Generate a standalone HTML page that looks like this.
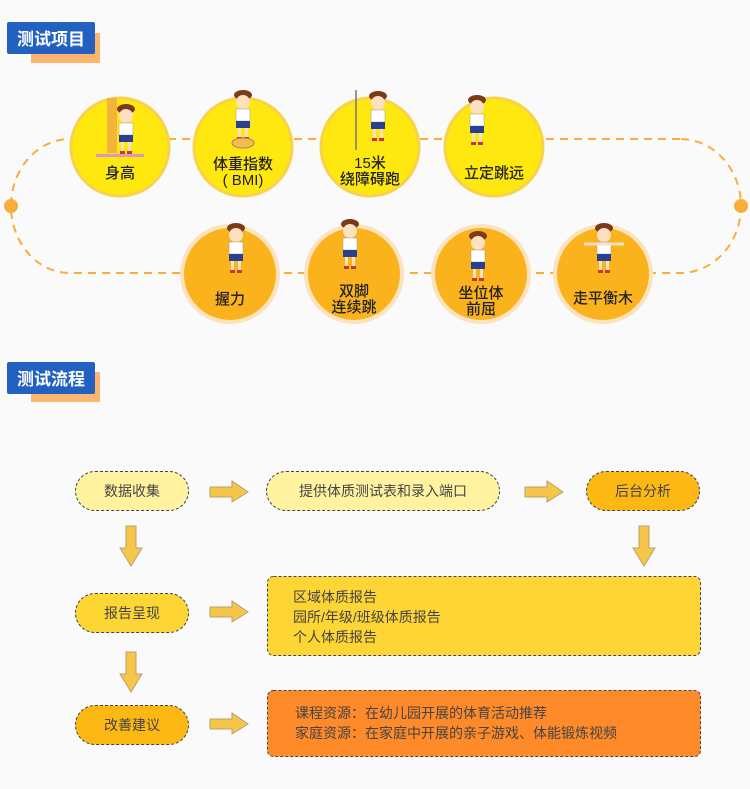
<!DOCTYPE html>
<html><head><meta charset="utf-8"><style>
html,body{margin:0;padding:0;background:#fafafa;}
svg{display:block}
text{font-family:"Liberation Sans","Noto Sans CJK SC",sans-serif;}
</style></head><body>
<svg width="750" height="789" viewBox="0 0 750 789" xmlns="http://www.w3.org/2000/svg">
<defs>
<g id="kid">
  <ellipse cx="0" cy="-22" rx="9" ry="5" fill="#7a3b1a"/>
  <circle cx="0" cy="-15" r="7" fill="#fde0c0"/>
  <rect x="-7" y="-8" width="14" height="12" fill="#fff" stroke="#999" stroke-width="0.5"/>
  <rect x="-7" y="4" width="14" height="7" fill="#2a3f8f"/>
  <rect x="-5" y="11" width="3" height="9" fill="#fde0c0"/>
  <rect x="2" y="11" width="3" height="9" fill="#fde0c0"/>
  <rect x="-6" y="20" width="5" height="3" fill="#c33"/>
  <rect x="1" y="20" width="5" height="3" fill="#c33"/>
</g>
<g id="ra">
  <path d="M0,-5 L22,-5 L22,-11 L38,0 L22,10 L22,5 L0,5 Z" fill="#f6c64a" stroke="#b9a070" stroke-width="1"/>
</g>
<g id="da">
  <path d="M-5,0 L5,0 L5,22 L11,22 L0,40 L-11,22 L-5,22 Z" fill="#f6c64a" stroke="#b9a070" stroke-width="1"/>
</g>
</defs>
<rect width="750" height="789" fill="#fafafa"/>

<rect x="31" y="33" width="69" height="30" fill="#fdb570"/>
<rect x="7" y="22" width="88" height="32" rx="2" fill="#2261c1"/>
<text x="51" y="45" font-size="17" font-weight="bold" fill="#fff" text-anchor="middle">测试项目</text>

<path d="M680,139 L70,139 A59,67 0 0 0 11,206 A59,67 0 0 0 70,273 L680,273 A61,67 0 0 0 741,206 A61,67 0 0 0 680,139 Z" fill="none" stroke="#f9ad3c" stroke-width="2" stroke-dasharray="8,6"/>
<circle cx="11" cy="206" r="7" fill="#f9ad3c"/>
<circle cx="741" cy="206" r="7" fill="#f9ad3c"/>

<g fill="#ffe80f" stroke="#f8d34a" stroke-width="3">
<circle cx="120" cy="147" r="49"/>
<circle cx="243" cy="147" r="49"/>
<circle cx="370" cy="147" r="49"/>
<circle cx="494" cy="147" r="49"/>
</g>
<g fill="#fbb31d" stroke="#fbe3bf" stroke-width="4">
<circle cx="230" cy="274" r="48"/>
<circle cx="354" cy="274" r="48"/>
<circle cx="481" cy="274" r="48"/>
<circle cx="603" cy="274" r="48"/>
</g>

<rect x="107" y="98" width="10" height="55" fill="#f2b53a"/>
<rect x="96" y="154" width="48" height="3" fill="#d9b"/>
<use href="#kid" x="126" y="131"/>
<use href="#kid" x="243" y="117"/>
<ellipse cx="243" cy="143" rx="11" ry="5" fill="#f2c04a" stroke="#a77" stroke-width="1"/>
<line x1="356" y1="90" x2="356" y2="150" stroke="#777" stroke-width="1.5"/>
<use href="#kid" x="378" y="118"/>
<use href="#kid" x="477" y="122"/>
<use href="#kid" x="236" y="250"/>
<use href="#kid" x="350" y="246"/>
<use href="#kid" x="478" y="258"/>
<use href="#kid" x="604" y="250"/>
<line x1="584" y1="244" x2="624" y2="244" stroke="#fde0c0" stroke-width="3"/>

<g font-size="15" font-weight="500" fill="#222" text-anchor="middle">
<text x="120" y="178">身高</text>
<text x="243" y="169">体重指数</text>
<text x="243" y="185">( BMI)</text>
<text x="370" y="168">15米</text>
<text x="370" y="184">绕障碍跑</text>
<text x="494" y="178">立定跳远</text>
<text x="230" y="304">握力</text>
<text x="354" y="296">双脚</text>
<text x="354" y="312">连续跳</text>
<text x="481" y="298">坐位体</text>
<text x="481" y="314">前屈</text>
<text x="603" y="303">走平衡木</text>
</g>

<rect x="31" y="372" width="69" height="30" fill="#fdb570"/>
<rect x="7" y="362" width="88" height="32" rx="2" fill="#2261c1"/>
<text x="51" y="385" font-size="17" font-weight="bold" fill="#fff" text-anchor="middle">测试流程</text>

<g stroke="#444" stroke-width="1" stroke-dasharray="3,2">
<rect x="75.5" y="471.5" width="113" height="39" rx="19.5" fill="#fff3a0"/>
<rect x="266.5" y="471.5" width="233" height="39" rx="19.5" fill="#fff3a0"/>
<rect x="586.5" y="471.5" width="113" height="39" rx="19.5" fill="#fdb813"/>
<rect x="75.5" y="593.5" width="113" height="39" rx="19.5" fill="#fdd535"/>
<rect x="267.5" y="576.5" width="433" height="79" rx="6" fill="#fdd535"/>
<rect x="75.5" y="705.5" width="113" height="39" rx="19.5" fill="#fdb813"/>
<rect x="267.5" y="690.5" width="433" height="66" rx="6" fill="#fe8a2a"/>
</g>
<use href="#ra" x="210" y="492"/>
<use href="#ra" x="525" y="492"/>
<use href="#ra" x="210" y="612"/>
<use href="#ra" x="210" y="724"/>
<use href="#da" x="131" y="526"/>
<use href="#da" x="644" y="526"/>
<use href="#da" x="131" y="652"/>

<g font-size="14" fill="#444">
<text x="132" y="496" text-anchor="middle">数据收集</text>
<text x="383" y="496" text-anchor="middle">提供体质测试表和录入端口</text>
<text x="643" y="496" text-anchor="middle">后台分析</text>
<text x="132" y="618" text-anchor="middle">报告呈现</text>
<text x="132" y="730" text-anchor="middle">改善建议</text>
<text x="293" y="602">区域体质报告</text>
<text x="293" y="622">园所/年级/班级体质报告</text>
<text x="293" y="642">个人体质报告</text>
<text x="295" y="718">课程资源：在幼儿园开展的体育活动推荐</text>
<text x="295" y="738">家庭资源：在家庭中开展的亲子游戏、体能锻炼视频</text>
</g>
</svg>
</body></html>
